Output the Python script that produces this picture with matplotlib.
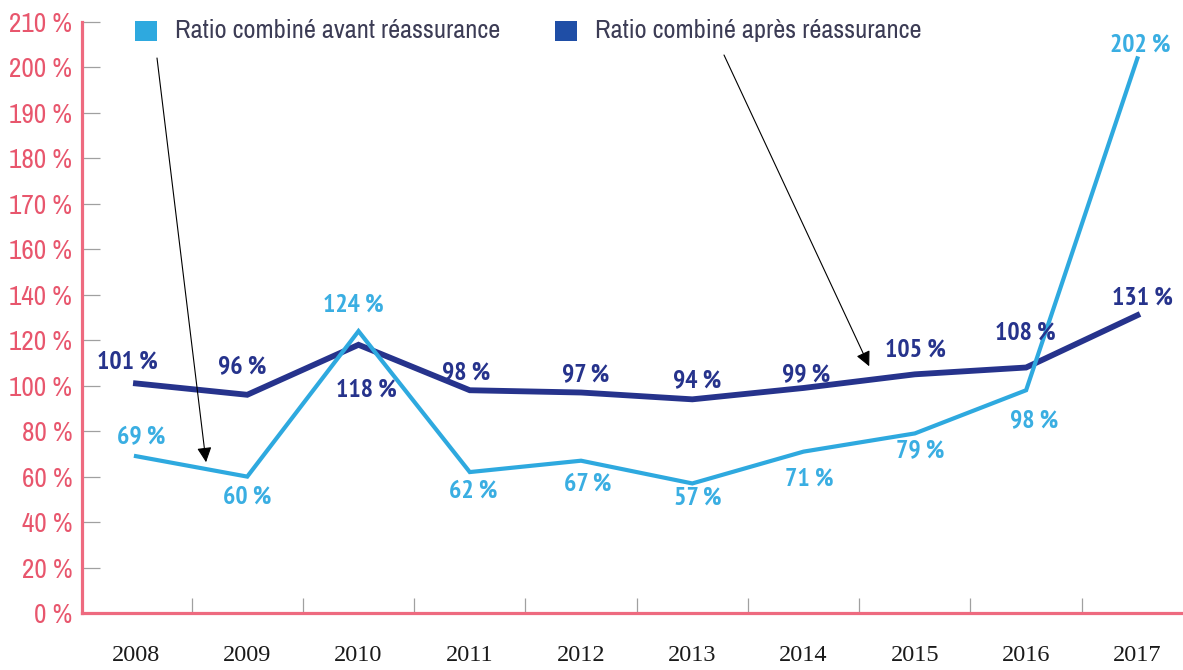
import numpy as np
import matplotlib
matplotlib.use("Agg")
import matplotlib.pyplot as plt
import matplotlib.font_manager as fm
from matplotlib.patches import Rectangle

# -----------------------------------------------------------------------------
# DATA
# -----------------------------------------------------------------------------
years = ["2008", "2009", "2010", "2011", "2012", "2013", "2014", "2015", "2016", "2017"]
avant = [69, 60, 124, 62, 67, 57, 71, 79, 98, 202]     # ratio combiné avant réassurance
apres = [101, 96, 118, 98, 97, 94, 99, 105, 108, 131]  # ratio combiné après réassurance
ytick_values = [0, 20, 40, 60, 80, 100, 120, 140, 160, 170, 180, 190, 200, 210]

label_avant = "Ratio combiné avant réassurance"
label_apres = "Ratio combiné après réassurance"

# label offsets (pixels) relative to each point
off_avant = [(5, 19), (0, -20), (-5, 26), (3, -19), (7, -23), (5, -15), (6, -27), (5, -17), (8, -30), (3, 13)]
off_apres = [(-9, 21), (-5, 28), (8, -45), (-4, 18), (5, 18), (5, 19), (3, 13), (1, 24), (-1, 34), (5, 17)]

# -----------------------------------------------------------------------------
# STYLE
# -----------------------------------------------------------------------------
C_LIGHT = "#2ea9df"
C_DARK = "#26338c"
C_AXIS = "#ee6a7f"
C_TICKLAB = "#e8566d"
C_TICK = "#a0a0a0"
SERIF = ["Liberation Serif", "DejaVu Serif"]


def find_condensed(bold):
    """Look for an installed condensed / narrow sans font file."""
    hits = []
    for f in fm.fontManager.ttflist:
        name = f.name + " " + f.fname
        cond = (str(f.stretch) in ("condensed", "semi-condensed", "extra-condensed")
                or "Narrow" in name or "Condensed" in name)
        if not cond or "Mono" in name or "Serif" in name or f.style != "normal":
            continue
        w = f.weight if isinstance(f.weight, int) else {"bold": 700}.get(f.weight, 400)
        if (w >= 600) != bold:
            continue
        hits.append(f.fname)
    hits.sort(key=lambda p: (("Narrow" not in p), ("Light" in p or "Black" in p or "Semi" in p), p))
    return hits[0] if hits else None


def cond_font(size, bold=False):
    path = find_condensed(bold)
    if path:
        return fm.FontProperties(fname=path, size=size)
    return fm.FontProperties(family="DejaVu Sans", size=size * 0.8,
                             weight="bold" if bold else "normal")


# the original y axis is piecewise: 20 % steps up to 160 %, then 10 % steps
def fwd(v):
    v = np.asarray(v, dtype=float)
    return np.where(v <= 160, v / 20.0, 8 + (v - 160) / 10.0)


def inv(u):
    u = np.asarray(u, dtype=float)
    return np.where(u <= 8, u * 20.0, 160 + (u - 8) * 10.0)


fig = plt.figure(figsize=(11.83, 6.70), dpi=100)
ax = fig.add_axes([82 / 1183, 57 / 670, 1 - 82 / 1183, (613 - 22) / 670])

x = np.arange(len(years))
ax.plot(x, avant, color=C_LIGHT, lw=3.0, solid_joinstyle="miter", zorder=3)
ax.plot(x, apres, color=C_DARK, lw=4.2, solid_joinstyle="miter", zorder=2)

ax.set_yscale("function", functions=(fwd, inv))
ax.set_ylim(0, 210)
ax.set_xlim(-0.485, 9.41)

ax.set_yticks(ytick_values)
ax.set_yticklabels([f"{v} %" for v in ytick_values], color=C_TICKLAB)
for lab in ax.get_yticklabels():
    lab.set_fontproperties(cond_font(19.5))
ax.yaxis.set_minor_locator(matplotlib.ticker.NullLocator())
ax.tick_params(axis="y", direction="in", length=13, width=0.9, color=C_TICK, pad=7)

ax.set_xticks(x)
ax.set_xticklabels(years, fontsize=17.5, family=SERIF, color="#1a1a1a")
ax.set_xticks(x[:-1] + 0.5, minor=True)
ax.tick_params(axis="x", which="major", length=0, pad=23)
ax.tick_params(axis="x", which="minor", direction="in", length=11, width=0.9, color=C_TICK)

for side in ["top", "right"]:
    ax.spines[side].set_visible(False)
for side in ["left", "bottom"]:
    ax.spines[side].set_color(C_AXIS)
    ax.spines[side].set_linewidth(2.3)
ax.patch.set_alpha(0)

# value labels
px = 0.72
fp_val = cond_font(18.5, bold=True)
for i, v in enumerate(avant):
    dx, dy = off_avant[i]
    ax.annotate(f"{v} %", (x[i], v), xytext=(dx * px, dy * px), textcoords="offset points",
                ha="center", va="center", color="#3aaee2", fontproperties=fp_val, zorder=5)
for i, v in enumerate(apres):
    dx, dy = off_apres[i]
    ax.annotate(f"{v} %", (x[i], v), xytext=(dx * px, dy * px), textcoords="offset points",
                ha="center", va="center", color=C_DARK, fontproperties=fp_val, zorder=5)

# legend (drawn by hand, in figure pixels)
W, H = 1183, 670
fp_leg = cond_font(19)
for sx, col, txt in [(135, C_LIGHT, label_avant), (555, "#1f4ea6", label_apres)]:
    fig.add_artist(Rectangle((sx / W, 1 - 41 / H), 22 / W, 20 / H,
                             transform=fig.transFigure, color=col, lw=0))
    fig.text((sx + 40) / W, 1 - 31 / H, txt, ha="left", va="center",
             fontproperties=fp_leg, color="#3c3c55")

# arrows from the legend to the curves
arrow = dict(arrowstyle="-|>,head_length=0.45,head_width=0.22", color="black",
             lw=0.8, mutation_scale=20, shrinkA=0, shrinkB=0)
xa = 0.63
ax.annotate("", xy=(xa, np.interp(xa, x, avant) + 3), xycoords="data",
            xytext=(157, H - 58), textcoords="figure pixels", arrowprops=arrow)
xb = 6.59
ax.annotate("", xy=(xb, np.interp(xb, x, apres) + 6), xycoords="data",
            xytext=(724, H - 55), textcoords="figure pixels", arrowprops=arrow)

fig.savefig("out.png", dpi=100, facecolor="white")
